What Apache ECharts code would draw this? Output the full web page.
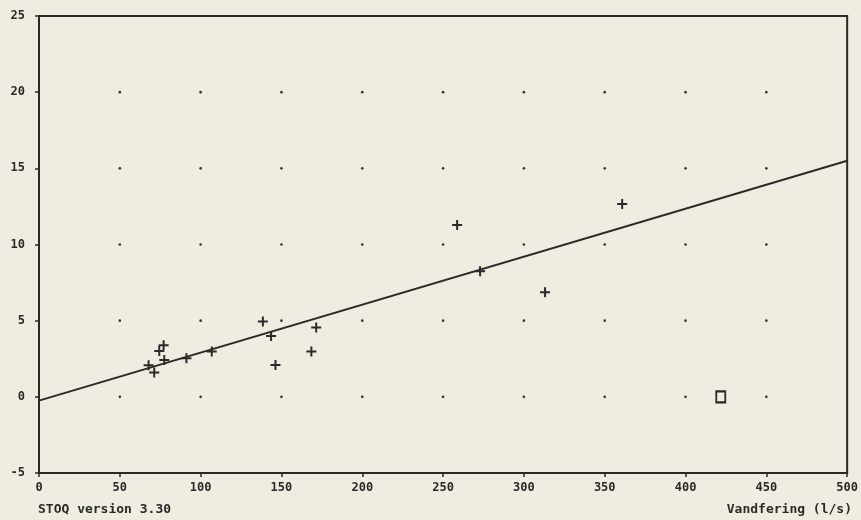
<!DOCTYPE html>
<html>
<head>
<meta charset="utf-8">
<script src="https://cdn.jsdelivr.net/npm/echarts@6/dist/echarts.min.js"></script>
<style>
  html, body { margin: 0; padding: 0; background: #efede1; }
  #chart { width: 861px; height: 520px; }
</style>
</head>
<body>
<div id="chart"></div>
<script>
// Measured flows (x, l/s) and the paired response values (y)
const flowX = [67.8, 71.3, 74.4, 77.1, 77.5, 91.2, 106.9, 138.5, 143.6, 146.3,
               168.5, 171.5, 258.7, 272.9, 313.1, 360.8];
const valueY = [2.07, 1.59, 3.01, 3.39, 2.42, 2.53, 2.97, 4.95, 4.00, 2.09,
                2.97, 4.55, 11.28, 8.24, 6.86, 12.66];

// Excluded observation, drawn as an open square
const outlierX = [421.8];
const outlierY = [0];

// Fitted regression line end points
const fitX = [0, 500];
const fitY = [-0.25, 15.5];

// Axis ticks
const xTicks = [0, 50, 100, 150, 200, 250, 300, 350, 400, 450, 500];
const yTicks = [-5, 0, 5, 10, 15, 20, 25];

const ink = '#2a2a2a';
const font = '"DejaVu Sans Mono", monospace';

// Dotted grid: one dot at every interior tick crossing
const dots = [];
xTicks.slice(1, -1).forEach(x => {
  yTicks.slice(1, -1).forEach(y => dots.push([x, y]));
});

const plus = 'path://M4,0H6V4H10V6H6V10H4V6H0V4H4Z';

const chart = echarts.init(document.getElementById('chart'));
chart.setOption({
  backgroundColor: '#efede1',
  animation: false,
  grid: { left: 39, right: 9, top: 16, bottom: 47, show: true,
          borderColor: ink, borderWidth: 2, backgroundColor: 'transparent' },
  xAxis: {
    type: 'value', min: 0, max: 500, interval: 50,
    axisLine: { show: true, onZero: false, lineStyle: { color: ink, width: 2 } },
    axisTick: { show: true, length: 4, lineStyle: { color: ink, width: 1.5 } },
    splitLine: { show: false },
    axisLabel: { color: ink, fontFamily: font, fontWeight: 'bold', fontSize: 12, margin: 9,
                 formatter: v => String(v) }
  },
  yAxis: {
    type: 'value', min: -5, max: 25, interval: 5,
    axisLine: { show: true, onZero: false, lineStyle: { color: ink, width: 2 } },
    axisTick: { show: true, length: 4, lineStyle: { color: ink, width: 1.5 } },
    splitLine: { show: false },
    axisLabel: { color: ink, fontFamily: font, fontWeight: 'bold', fontSize: 12, margin: 14 }
  },
  series: [
    {
      type: 'scatter', data: dots, symbol: 'circle', symbolSize: 2.6,
      itemStyle: { color: '#333', opacity: 1 }, silent: true, z: 1
    },
    {
      type: 'line', data: fitX.map((x, i) => [x, fitY[i]]), showSymbol: false,
      lineStyle: { color: ink, width: 2 }, z: 2
    },
    {
      type: 'scatter', data: flowX.map((x, i) => [x, valueY[i]]),
      symbol: plus, symbolSize: 10, itemStyle: { color: ink, opacity: 1 }, z: 3
    },
    {
      type: 'scatter', data: outlierX.map((x, i) => [x, outlierY[i]]),
      symbol: 'rect', symbolSize: [9, 11],
      itemStyle: { color: '#efede1', borderColor: ink, borderWidth: 2, opacity: 1 }, z: 3
    }
  ],
  graphic: [
    { type: 'text', left: 38, top: 503,
      style: { text: 'STOQ version 3.30', fill: ink, font: 'bold 13px ' + font } },
    { type: 'text', right: 9, top: 503,
      style: { text: 'Vandfering (l/s)', fill: ink, font: 'bold 13px ' + font } }
  ]
});
</script>
</body>
</html>
